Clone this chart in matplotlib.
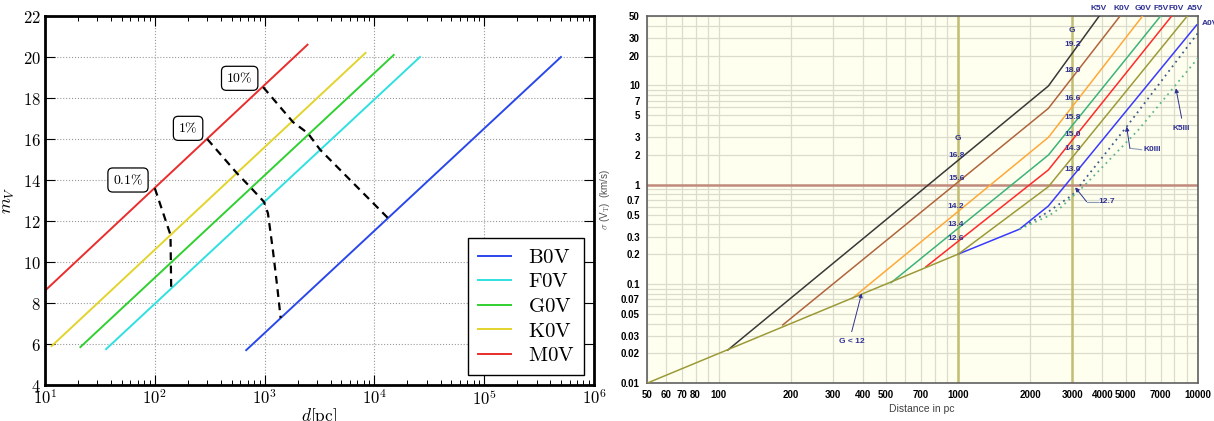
import matplotlib
matplotlib.use('Agg')
import numpy as np
import matplotlib.pyplot as plt
from matplotlib.ticker import FixedLocator, FuncFormatter, LogLocator, NullFormatter

plt.rcParams['mathtext.fontset'] = 'cm'
plt.rcParams['font.family'] = 'DejaVu Sans'

# ---- left panel: apparent magnitude vs distance ----
star_types = ['B0V', 'F0V', 'G0V', 'K0V', 'M0V']
star_colors = ['#2a48ea', '#30e0e0', '#30d030', '#e2d42c', '#ea2c2c']
d_start = [680, 36, 21, 11.5, 10]
d_end = [500000, 26000, 15000, 8300, 2460]
m_start = [5.7, 5.75, 5.85, 5.9, 8.6]
m_end = [20.0, 20.0, 20.1, 20.2, 20.6]

# dashed iso-error curves
dash01_d = [100, 139, 141]
dash01_m = [13.6, 11.32, 8.71]
dash1_d = [300, 560, 757, 985, 1072, 1189, 1303, 1400]
dash1_m = [16.0, 14.33, 13.6, 12.94, 12.38, 10.59, 8.8, 7.27]
dash10_d = [970, 1810, 2480, 3200, 13200]
dash10_m = [18.53, 16.83, 16.28, 15.48, 12.16]
frac_labels = ['0.1%', '1%', '10%']
frac_label_d = [57, 201, 593]
frac_label_m = [14.0, 16.52, 18.96]

# ---- right panel: sigma(V_T) vs distance ----
v_names = ['K5V', 'K0V', 'G0V', 'F5V', 'F0V', 'A5V', 'A0V']
v_colors = ['#383838', '#b0643c', '#ffa838', '#3cb37a', '#ff2a2a', '#9c9a38', '#3a3aff']
k5v_d = [109, 2380, 3880]
k5v_s = [0.0216, 9.87, 50]
k0v_d = [185, 2380, 4740]
k0v_s = [0.0387, 5.88, 50]
g0v_d = [361, 2380, 5890]
g0v_s = [0.0718, 3.0, 50]
f5v_d = [524, 2380, 7000]
f5v_s = [0.103, 1.99, 50]
f0v_d = [733, 2380, 7790]
f0v_s = [0.149, 1.41, 50]
a5v_d = [50, 1000, 2380, 9050]
a5v_s = [0.01, 0.2, 0.955, 50]
a0v_d = [1000, 1800, 2380, 9900]
a0v_s = [0.2, 0.356, 0.611, 40.6]
k0iii_d = [1800, 2380, 3000, 5050, 10000]
k0iii_s = [0.356, 0.535, 0.79, 3.84, 33.5]
k5iii_d = [1800, 2380, 2660, 3380, 5650, 10000]
k5iii_s = [0.356, 0.484, 0.58, 0.99, 3.56, 18.7]

top_label_d = [3850, 4820, 5930, 7030, 8170, 9750]
top_label_s = 59.8

g3000_labels = ['19.2', '18.0', '16.6', '15.8', '15.0', '14.3', '13.0']
g3000_s = [26.1, 14.1, 7.3, 4.77, 3.24, 2.29, 1.41]
g1000_labels = ['16.8', '15.6', '14.2', '13.4', '12.6']
g1000_s = [1.99, 1.16, 0.60, 0.40, 0.286]

x_ticks = [50, 60, 70, 80, 100, 200, 300, 400, 500, 700, 1000, 2000, 3000,
           4000, 5000, 7000, 10000]
y_ticks = [0.01, 0.02, 0.03, 0.05, 0.07, 0.1, 0.2, 0.3, 0.5, 0.7, 1, 2, 3, 5,
           7, 10, 20, 30, 50]

fig = plt.figure(figsize=(12.14, 4.21), dpi=100)

# ================= left panel =================
ax1 = fig.add_axes([45 / 1214, 1 - 385 / 421, 549 / 1214, 369 / 421])
for name, col, d0, d1, m0, m1 in zip(star_types, star_colors, d_start, d_end,
                                     m_start, m_end):
    ax1.plot([d0, d1], [m0, m1], color=col, lw=1.4, label=r'$\mathrm{%s}$' % name)

for dd, mm in [(dash01_d, dash01_m), (dash1_d, dash1_m), (dash10_d, dash10_m)]:
    ax1.plot(dd, mm, color='black', lw=1.6, ls=(0, (3.5, 2.5)))

for lab, x, y in zip(frac_labels, frac_label_d, frac_label_m):
    ax1.text(x, y, r'$%s$' % lab.replace('%', r'\%'), ha='center', va='center',
             fontsize=10,
             bbox=dict(boxstyle='round,pad=0.35', fc='white', ec='black', lw=0.9))

ax1.set_xscale('log')
ax1.set_xlim(10, 1e6)
ax1.set_ylim(4, 22)
ax1.set_yticks(range(4, 23, 2))
ax1.yaxis.set_major_formatter(FuncFormatter(lambda v, p: r'$%d$' % v))
ax1.xaxis.set_major_locator(FixedLocator([1e1, 1e2, 1e3, 1e4, 1e5, 1e6]))
ax1.xaxis.set_major_formatter(FuncFormatter(lambda v, p: r'$10^{%d}$' % round(np.log10(v))))
ax1.xaxis.set_minor_locator(LogLocator(base=10, subs=np.arange(2, 10), numticks=20))
ax1.xaxis.set_minor_formatter(NullFormatter())
ax1.tick_params(which='major', direction='in', top=True, right=True, length=7,
                width=0.8, labelsize=12, pad=3)
ax1.tick_params(which='minor', direction='in', top=True, right=True, length=3.5,
                width=0.7)
ax1.grid(True, which='major', ls=':', color='#999999', lw=0.8)
for sp in ax1.spines.values():
    sp.set_linewidth(2)
ax1.set_xlabel(r'$d[\mathrm{pc}]$', fontsize=12.5, labelpad=-2)
ax1.set_ylabel(r'$m_V$', fontsize=13, labelpad=4)
ax1.legend(loc='lower right', fontsize=15, fancybox=False, edgecolor='black',
           framealpha=1, handlelength=1.6, handletextpad=0.8, labelspacing=0.22,
           borderaxespad=0.5, borderpad=0.45).get_frame().set_linewidth(1.0)

# ================= right panel =================
ax2 = fig.add_axes([646.7 / 1214, 1 - 383.3 / 421, 551 / 1214, 367.3 / 421])
ax2.set_facecolor('#fffff0')
ax2.set_xscale('log')
ax2.set_yscale('log')
ax2.set_xlim(50, 10000)
ax2.set_ylim(0.01, 50)
ax2.xaxis.set_major_locator(FixedLocator(x_ticks))
ax2.xaxis.set_major_formatter(FuncFormatter(lambda v, p: '%d' % v))
ax2.yaxis.set_major_locator(FixedLocator(y_ticks))
ax2.yaxis.set_major_formatter(FuncFormatter(lambda v, p: ('%g' % v)))
ax2.xaxis.set_minor_locator(LogLocator(base=10, subs=np.arange(1, 10), numticks=40))
ax2.yaxis.set_minor_locator(LogLocator(base=10, subs=np.arange(1, 10), numticks=40))
ax2.xaxis.set_minor_formatter(NullFormatter())
ax2.yaxis.set_minor_formatter(NullFormatter())
ax2.tick_params(which='both', length=0)
ax2.tick_params(which='major', labelsize=7, pad=5)
for lab in ax2.get_xticklabels() + ax2.get_yticklabels():
    lab.set_fontweight('bold')
    lab.set_fontfamily('Liberation Sans')
ax2.grid(True, which='both', color='#dcdccc', lw=0.9)
ax2.set_axisbelow(True)
for sp in ax2.spines.values():
    sp.set_color('#606060')
    sp.set_linewidth(1.2)

ax2.axvline(1000, color='#c2bd72', lw=1.8, zorder=1.5)
ax2.axvline(3000, color='#c2bd72', lw=1.8, zorder=1.5)
ax2.axhline(1, color='#c08a7c', lw=1.8, zorder=1.5)

series = [(k5v_d, k5v_s), (k0v_d, k0v_s), (g0v_d, g0v_s), (f5v_d, f5v_s),
          (f0v_d, f0v_s), (a0v_d, a0v_s), (a5v_d, a5v_s)]
cols = v_colors[:5] + [v_colors[6], v_colors[5]]
for (dd, ss), col in zip(series, cols):
    ax2.plot(dd, ss, color=col, lw=1.1, zorder=3)
ax2.plot(k0iii_d, k0iii_s, color='#3c5c8c', lw=1.3, ls=(0, (1, 2.2)), zorder=3)
ax2.plot(k5iii_d, k5iii_s, color='#5cb88a', lw=1.3, ls=(0, (1, 2.2)), zorder=3)

navy = '#2e3192'
lab_kw = dict(color=navy, fontsize=6, fontweight='bold', family='Liberation Sans',
              ha='center', va='center', zorder=5)
for name, x in zip(v_names[:6], top_label_d):
    ax2.text(x, top_label_s, name, clip_on=False, **lab_kw)
ax2.text(10400, 42.3, v_names[6], clip_on=False,
         **{**lab_kw, 'ha': 'left'})
ax2.text(2980, 36.1, 'G', **lab_kw)
ax2.text(1000, 2.93, 'G', **lab_kw)
for lab, s in zip(g3000_labels, g3000_s):
    ax2.text(3000, s, lab, **lab_kw)
for lab, s in zip(g1000_labels, g1000_s):
    ax2.text(980, s, lab, **lab_kw)

lead_col = '#8c9bb5'
# 12.7
ax2.plot([3435, 3845], [0.675, 0.675], color=lead_col, lw=0.8, zorder=4)
ax2.annotate('', xy=(3080, 0.94), xytext=(3435, 0.675), zorder=4,
             arrowprops=dict(arrowstyle='-|>', color=navy, lw=0.7, mutation_scale=6,
                             shrinkA=0, shrinkB=0))
ax2.text(4170, 0.675, '12.7', **lab_kw)
# K0III
ax2.plot([5210, 5830], [2.33, 2.25], color=lead_col, lw=0.8, zorder=4)
ax2.annotate('', xy=(5047, 3.84), xytext=(5210, 2.33), zorder=4,
             arrowprops=dict(arrowstyle='-|>', color=navy, lw=0.7, mutation_scale=6,
                             shrinkA=0, shrinkB=0))
ax2.text(5920, 2.25, 'K0III', **{**lab_kw, 'ha': 'left'})
# K5III
ax2.annotate('', xy=(8110, 9.35), xytext=(8570, 4.67), zorder=4,
             arrowprops=dict(arrowstyle='-|>', color=navy, lw=0.7, mutation_scale=6,
                             shrinkA=0, shrinkB=0))
ax2.text(8570, 3.7, 'K5III', **lab_kw)
# G < 12
ax2.annotate('', xy=(395, 0.0806), xytext=(359, 0.0331), zorder=4,
             arrowprops=dict(arrowstyle='-|>', color=navy, lw=0.7, mutation_scale=6,
                             shrinkA=0, shrinkB=0))
ax2.text(359, 0.0262, 'G < 12', **lab_kw)

ax2.set_xlabel('Distance in pc', fontsize=7.5, family='Liberation Sans',
               color='#404040', labelpad=3)
ax2.set_ylabel(r'$\sigma$ (V$_\mathrm{T}$)  (km/s)', fontsize=7,
               family='Liberation Sans', color='#505050', labelpad=6)

fig.savefig('out.png', dpi=100)
